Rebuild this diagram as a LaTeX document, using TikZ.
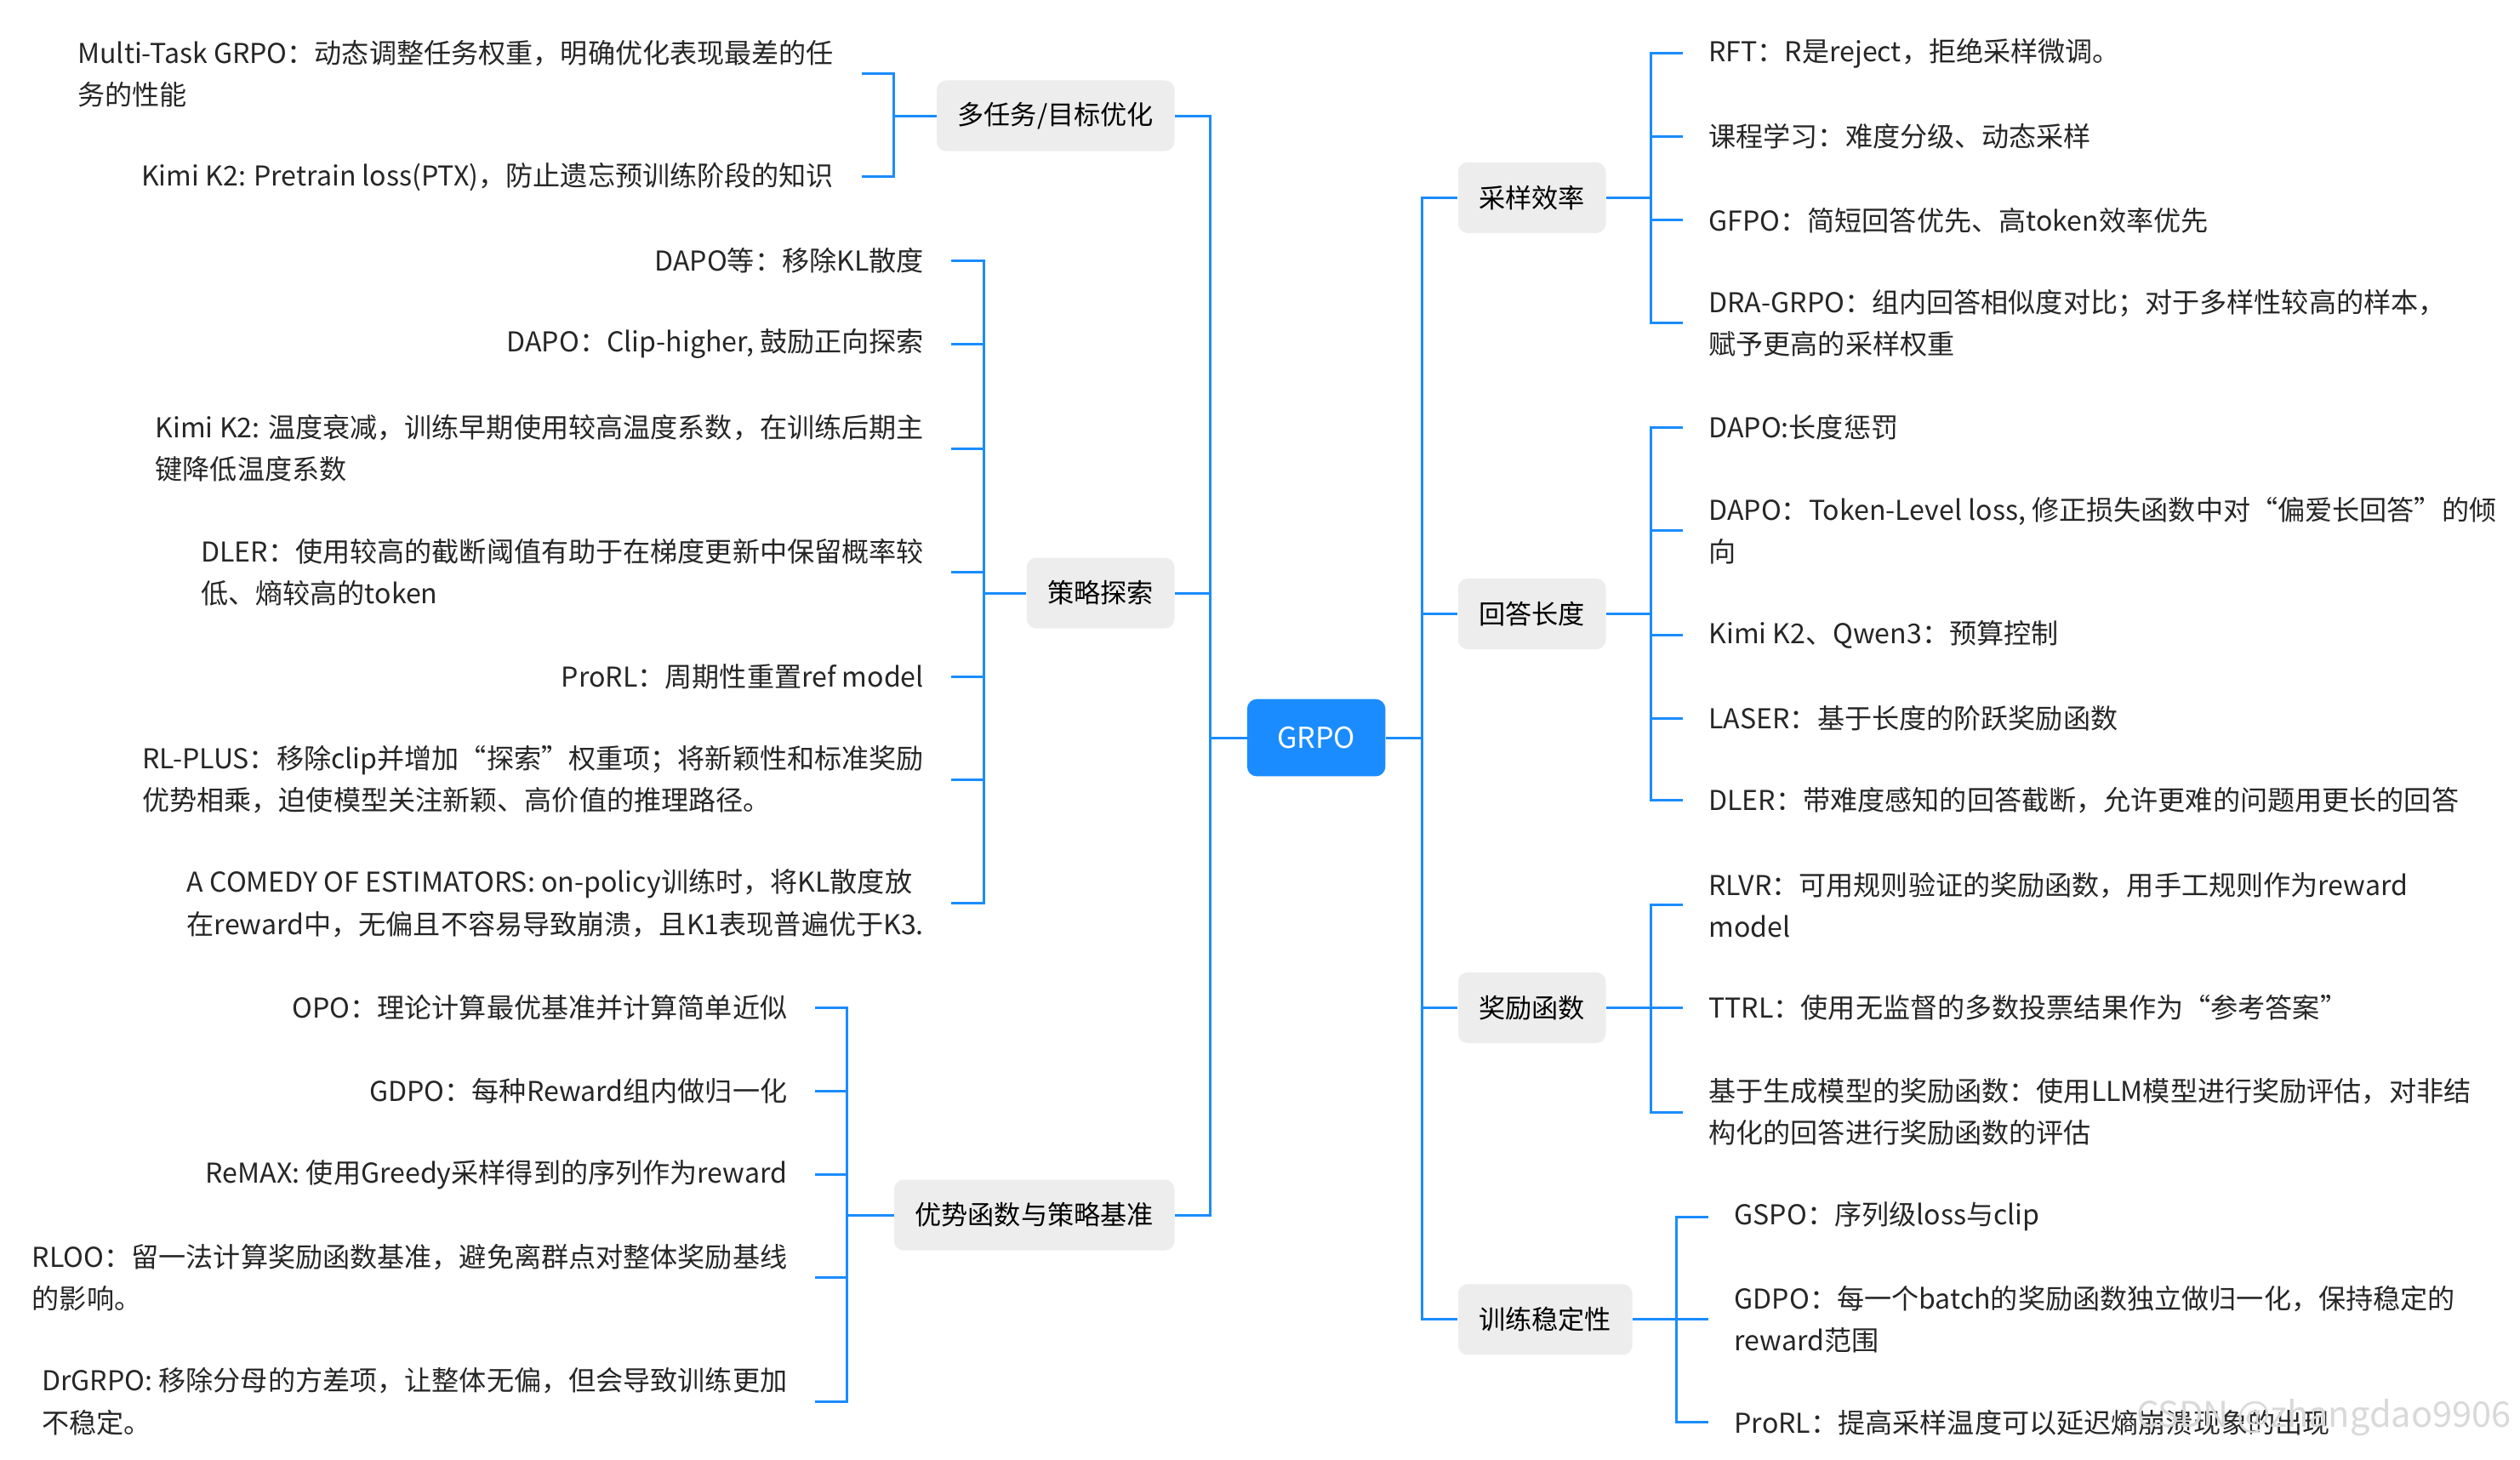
\documentclass[tikz,border=0pt]{standalone}
\usepackage{fontspec}
\setmainfont{Noto Sans CJK SC}
\begin{document}
\begin{tikzpicture}[x=1pt,y=-1pt]
\definecolor{bl}{HTML}{1A8CFF}
\tikzset{line/.style={draw=bl,line width=1.6pt},
  br/.style={fill=black!7,rounded corners=6pt,minimum height=44pt,inner xsep=13pt,font=\fontsize{16.5}{26}\selectfont},
  lfR/.style={anchor=west,inner xsep=16pt,align=left,font=\fontsize{17}{26}\selectfont,text=black!85},
  lfL/.style={anchor=east,inner xsep=17pt,align=left,font=\fontsize{17}{26}\selectfont,text=black!85}}
\useasboundingbox (0,0) rectangle (1568,908);
\node[fill=bl,rounded corners=6pt,minimum width=86pt,minimum height=48pt,text=white,font=\fontsize{18}{22}\selectfont] (g) at (819,459) {GRPO};
% branches
\node[br,anchor=east] (b1) at (731,72) {多任务/目标优化};
\node[br,anchor=east] (b2) at (731,369) {策略探索};
\node[br,anchor=east] (b3) at (731,756) {优势函数与策略基准};
\node[br,anchor=west] (b4) at (907,123) {采样效率};
\node[br,anchor=west] (b5) at (907,382) {回答长度};
\node[br,anchor=west] (b6) at (907,627) {奖励函数};
\node[br,anchor=west] (b7) at (907,821) {训练稳定性};
\coordinate (L) at (753,459); \coordinate (R) at (885,459);
\draw[line] (g.west)--(L); \draw[line] (g.east)--(R);
\foreach \b in {b1,b2,b3} \draw[line] (L) |- (\b.east);
\foreach \b in {b4,b5,b6,b7} \draw[line] (R) |- (\b.west);
% leaves b1
\node[lfL] (a1) at (536,46) {Multi-Task GRPO：动态调整任务权重，明确优化表现最差的任\\务的性能};
\node[lfL] (a2) at (536,110) {Kimi K2: Pretrain loss(PTX)，防止遗忘预训练阶段的知识};
\coordinate (c1) at (556,72);
\draw[line] (b1.west)--(c1);
\foreach \n in {a1,a2} \draw[line] (c1) |- (\n.east);
% leaves b2
\node[lfL] (p1) at (592,162) {DAPO等：移除KL散度};
\node[lfL] (p2) at (592,214) {DAPO：Clip-higher, 鼓励正向探索};
\node[lfL] (p3) at (592,279) {Kimi K2: 温度衰减，训练早期使用较高温度系数，在训练后期主\\键降低温度系数};
\node[lfL] (p4) at (592,356) {DLER：使用较高的截断阈值有助于在梯度更新中保留概率较\\低、熵较高的token};
\node[lfL] (p5) at (592,421) {ProRL：周期性重置ref model};
\node[lfL] (p6) at (592,485) {RL-PLUS：移除clip并增加“探索”权重项；将新颖性和标准奖励\\优势相乘，迫使模型关注新颖、高价值的推理路径。};
\node[lfL] (p7) at (592,562) {A COMEDY OF ESTIMATORS: on-policy训练时，将KL散度放\\在reward中，无偏且不容易导致崩溃，且K1表现普遍优于K3.};
\coordinate (c2) at (612,369);
\draw[line] (b2.west)--(c2);
\foreach \n in {p1,p2,p3,p4,p5,p6,p7} \draw[line] (c2) |- (\n.east);
% leaves b3
\node[lfL] (q1) at (507,627) {OPO：理论计算最优基准并计算简单近似};
\node[lfL] (q2) at (507,679) {GDPO：每种Reward组内做归一化};
\node[lfL] (q3) at (507,731) {ReMAX: 使用Greedy采样得到的序列作为reward};
\node[lfL] (q4) at (507,795) {RLOO：留一法计算奖励函数基准，避免离群点对整体奖励基线\\的影响。};
\node[lfL] (q5) at (507,872) {DrGRPO: 移除分母的方差项，让整体无偏，但会导致训练更加\\不稳定。};
\coordinate (c3) at (527,756);
\draw[line] (b3.west)--(c3);
\foreach \n in {q1,q2,q3,q4,q5} \draw[line] (c3) |- (\n.east);
% leaves b4
\node[lfR] (r1) at (1047,33) {RFT：R是reject，拒绝采样微调。};
\node[lfR] (r2) at (1047,85) {课程学习：难度分级、动态采样};
\node[lfR] (r3) at (1047,137) {GFPO：简短回答优先、高token效率优先};
\node[lfR] (r4) at (1047,201) {DRA-GRPO：组内回答相似度对比；对于多样性较高的样本，\\赋予更高的采样权重};
\coordinate (c4) at (1027,123);
\draw[line] (b4.east)--(c4);
\foreach \n in {r1,r2,r3,r4} \draw[line] (c4) |- (\n.west);
% leaves b5
\node[lfR] (s1) at (1047,266) {DAPO:长度惩罚};
\node[lfR] (s2) at (1047,330) {DAPO：Token-Level loss, 修正损失函数中对“偏爱长回答”的倾\\向};
\node[lfR] (s3) at (1047,395) {Kimi K2、Qwen3：预算控制};
\node[lfR] (s4) at (1047,447) {LASER：基于长度的阶跃奖励函数};
\node[lfR] (s5) at (1047,498) {DLER：带难度感知的回答截断，允许更难的问题用更长的回答};
\coordinate (c5) at (1027,382);
\draw[line] (b5.east)--(c5);
\foreach \n in {s1,s2,s3,s4,s5} \draw[line] (c5) |- (\n.west);
% leaves b6
\node[lfR] (t1) at (1047,563) {RLVR：可用规则验证的奖励函数，用手工规则作为reward\\model};
\node[lfR] (t2) at (1047,627) {TTRL：使用无监督的多数投票结果作为“参考答案”};
\node[lfR] (t3) at (1047,692) {基于生成模型的奖励函数：使用LLM模型进行奖励评估，对非结\\构化的回答进行奖励函数的评估};
\coordinate (c6) at (1027,627);
\draw[line] (b6.east)--(c6);
\foreach \n in {t1,t2,t3} \draw[line] (c6) |- (\n.west);
% leaves b7
\node[lfR] (u1) at (1063,757) {GSPO：序列级loss与clip};
\node[lfR] (u2) at (1063,821) {GDPO：每一个batch的奖励函数独立做归一化，保持稳定的\\reward范围};
\node[lfR] (u3) at (1063,885) {ProRL：提高采样温度可以延迟熵崩溃现象的出现};
\coordinate (c7) at (1043,821);
\draw[line] (b7.east)--(c7);
\foreach \n in {u1,u2,u3} \draw[line] (c7) |- (\n.west);
\node[anchor=east,text=black!15,font=\fontsize{22}{26}\selectfont] (wm) at (1566,882) {CSDN @zhangdao9906};
\end{tikzpicture}
\end{document}
